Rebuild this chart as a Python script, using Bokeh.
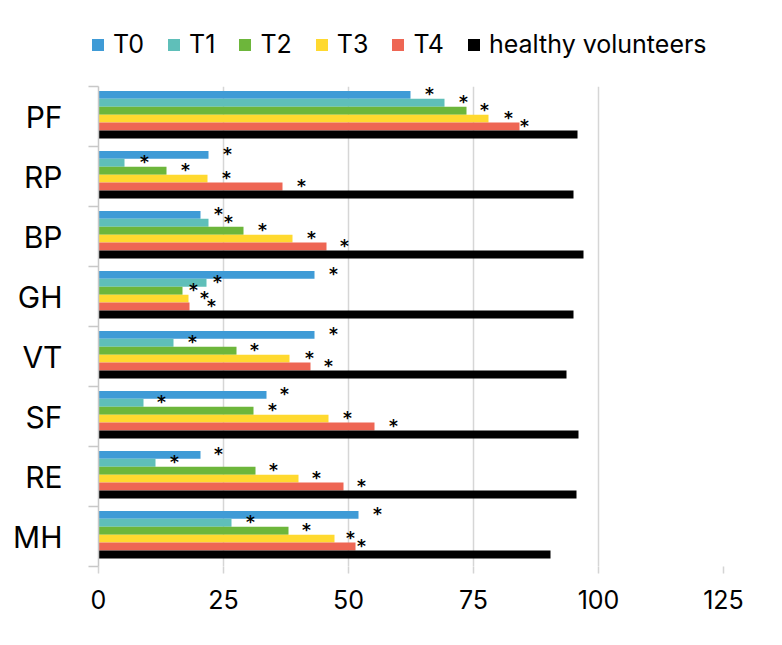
from bokeh.plotting import figure
from bokeh.models import Range1d, FixedTicker, ColumnDataSource, Legend, LegendItem
from bokeh.layouts import column
from bokeh.core.properties import value
from bokeh.embed import file_html
from bokeh.resources import INLINE

categories = ["PF", "RP", "BP", "GH", "VT", "SF", "RE", "MH"]
series_names = ["T0", "T1", "T2", "T3", "T4", "healthy volunteers"]

t0 = [62.4, 22.0, 20.4, 43.2, 43.2, 33.6, 20.4, 52.0]
t1 = [69.2, 5.2, 22.0, 21.6, 15.0, 9.0, 11.4, 26.6]
t2 = [73.6, 13.6, 29.0, 16.8, 27.6, 31.0, 31.4, 38.0]
t3 = [78.0, 21.8, 38.8, 18.0, 38.2, 46.0, 40.0, 47.2]
t4 = [84.2, 36.8, 45.6, 18.2, 42.4, 55.2, 49.0, 51.4]
healthy = [95.8, 95.0, 97.0, 95.0, 93.6, 96.0, 95.6, 90.4]

# positions of the significance asterisks (x value)
star_t0 = [66.2, 25.8, 24.0, 47.0, 47.0, 37.2, 24.0, 55.8]
star_t1 = [73.0, 9.2, 26.0, 23.8, 18.8, 12.6, 15.2, 30.4]
star_t2 = [77.2, 17.4, 32.8, 19.0, 31.2, 34.8, 35.0, 41.6]
star_t3 = [82.0, 25.6, 42.6, 21.2, 42.2, 49.8, 43.6, 50.4]
star_t4 = [85.2, 40.6, 49.2, 22.6, 46.0, 59.0, 52.6, 52.6]

x_ticks = [0, 25, 50, 75, 100, 125]

colors = ["#3F9BD6", "#5FBFB9", "#6DB63B", "#FFD92F", "#EE6654", "#000000"]
FONT = "Inter"

series = [t0, t1, t2, t3, t4, healthy]
stars = [star_t0, star_t1, star_t2, star_t3, star_t4]

n = len(categories)
centers = [n - i - 0.5 for i in range(n)]
bar_h = 0.132
group_shift = 0.03

LEG_H = 80

# ---- legend strip (its renderers are hidden; only the legend shows) ----
lg = figure(width=766, height=LEG_H, output_backend="svg", toolbar_location=None,
            x_axis_location=None, y_axis_location=None,
            x_range=Range1d(0, 125), y_range=Range1d(0, n),
            min_border=0, min_border_left=0, min_border_right=0,
            min_border_top=0, min_border_bottom=0)
try:
    lg.frame_align = False
    leg_x = 90
except Exception:
    leg_x = 0
lg.outline_line_color = None
lg.grid.visible = False
items = []
for k, (vals, name, col) in enumerate(zip(series, series_names, colors)):
    off = group_shift + (2.5 - k) * bar_h
    r = lg.hbar(y=[c + off for c in centers], right=vals, left=0, height=bar_h,
                fill_color=col, line_color=None, visible=False)
    items.append(LegendItem(label=name, renderers=[r]))
legend = Legend(items=items, orientation="horizontal", location=(leg_x, 21))
legend.padding = 0
legend.margin = 0
legend.spacing = 22
legend.label_standoff = 8
legend.glyph_width = 15
legend.glyph_height = 15
legend.label_text_font = FONT
legend.label_text_font_size = "25px"
legend.label_text_color = "black"
legend.border_line_color = None
legend.background_fill_alpha = 0
legend.inactive_fill_alpha = 0
legend.click_policy = "none"
lg.add_layout(legend, "center")

# ---- main chart ----
p = figure(width=766, height=629 - LEG_H, output_backend="svg", toolbar_location=None,
           x_range=Range1d(0, 125), y_range=Range1d(0, n),
           min_border_left=98, min_border_right=43, min_border_top=86 - LEG_H,
           min_border_bottom=63)
p.outline_line_color = None
p.background_fill_color = "white"

for k, (vals, col) in enumerate(zip(series, colors)):
    off = group_shift + (2.5 - k) * bar_h
    ys = [c + off for c in centers]
    src = ColumnDataSource(dict(y=ys, right=vals))
    p.hbar(y="y", right="right", left=0, height=bar_h, source=src,
           fill_color=col, line_color=None)
    if k < len(stars):
        ssrc = ColumnDataSource(dict(x=stars[k], y=ys, t=["*"] * n))
        p.text(x="x", y="y", text="t", source=ssrc, text_align="center",
               text_baseline="middle", text_font=value("DejaVu Sans"),
               text_font_style="bold", text_font_size="17px", text_color="black",
               y_offset=-1)

# x axis
p.xaxis.ticker = FixedTicker(ticks=x_ticks)
p.xaxis.axis_line_color = None
p.xaxis.major_tick_out = 7
p.xaxis.major_tick_in = 0
p.xaxis.major_tick_line_color = "#d4d4d4"
p.xaxis.major_tick_line_width = 1.5
p.xaxis.minor_tick_line_color = None
p.xaxis.major_label_text_font = FONT
p.xaxis.major_label_text_font_size = "25px"
p.xaxis.major_label_text_color = "black"
p.xaxis.major_label_standoff = 16

# y axis
p.yaxis.ticker = FixedTicker(ticks=centers, minor_ticks=list(range(n + 1)))
p.yaxis.major_label_overrides = {c: cat for c, cat in zip(centers, categories)}
p.yaxis.axis_line_color = "#c8c8c8"
p.yaxis.axis_line_width = 1.5
p.yaxis.major_tick_line_color = None
p.yaxis.major_tick_out = 0
p.yaxis.major_tick_in = 0
p.yaxis.minor_tick_out = 10
p.yaxis.minor_tick_in = 0
p.yaxis.minor_tick_line_color = "#c8c8c8"
p.yaxis.minor_tick_line_width = 1.5
p.yaxis.major_label_text_font = FONT
p.yaxis.major_label_text_font_size = "30px"
p.yaxis.major_label_text_color = "black"
p.yaxis.major_label_standoff = 26

# grids
p.xgrid.ticker = FixedTicker(ticks=[25, 50, 75, 100])
p.xgrid.grid_line_color = "#d6d6d6"
p.xgrid.grid_line_width = 1.5
p.ygrid.ticker = FixedTicker(ticks=[n])
p.ygrid.grid_line_color = "#d6d6d6"
p.ygrid.grid_line_width = 1.5

layout = column(lg, p, spacing=0)
open("out.html", "w").write(file_html(layout, INLINE))
